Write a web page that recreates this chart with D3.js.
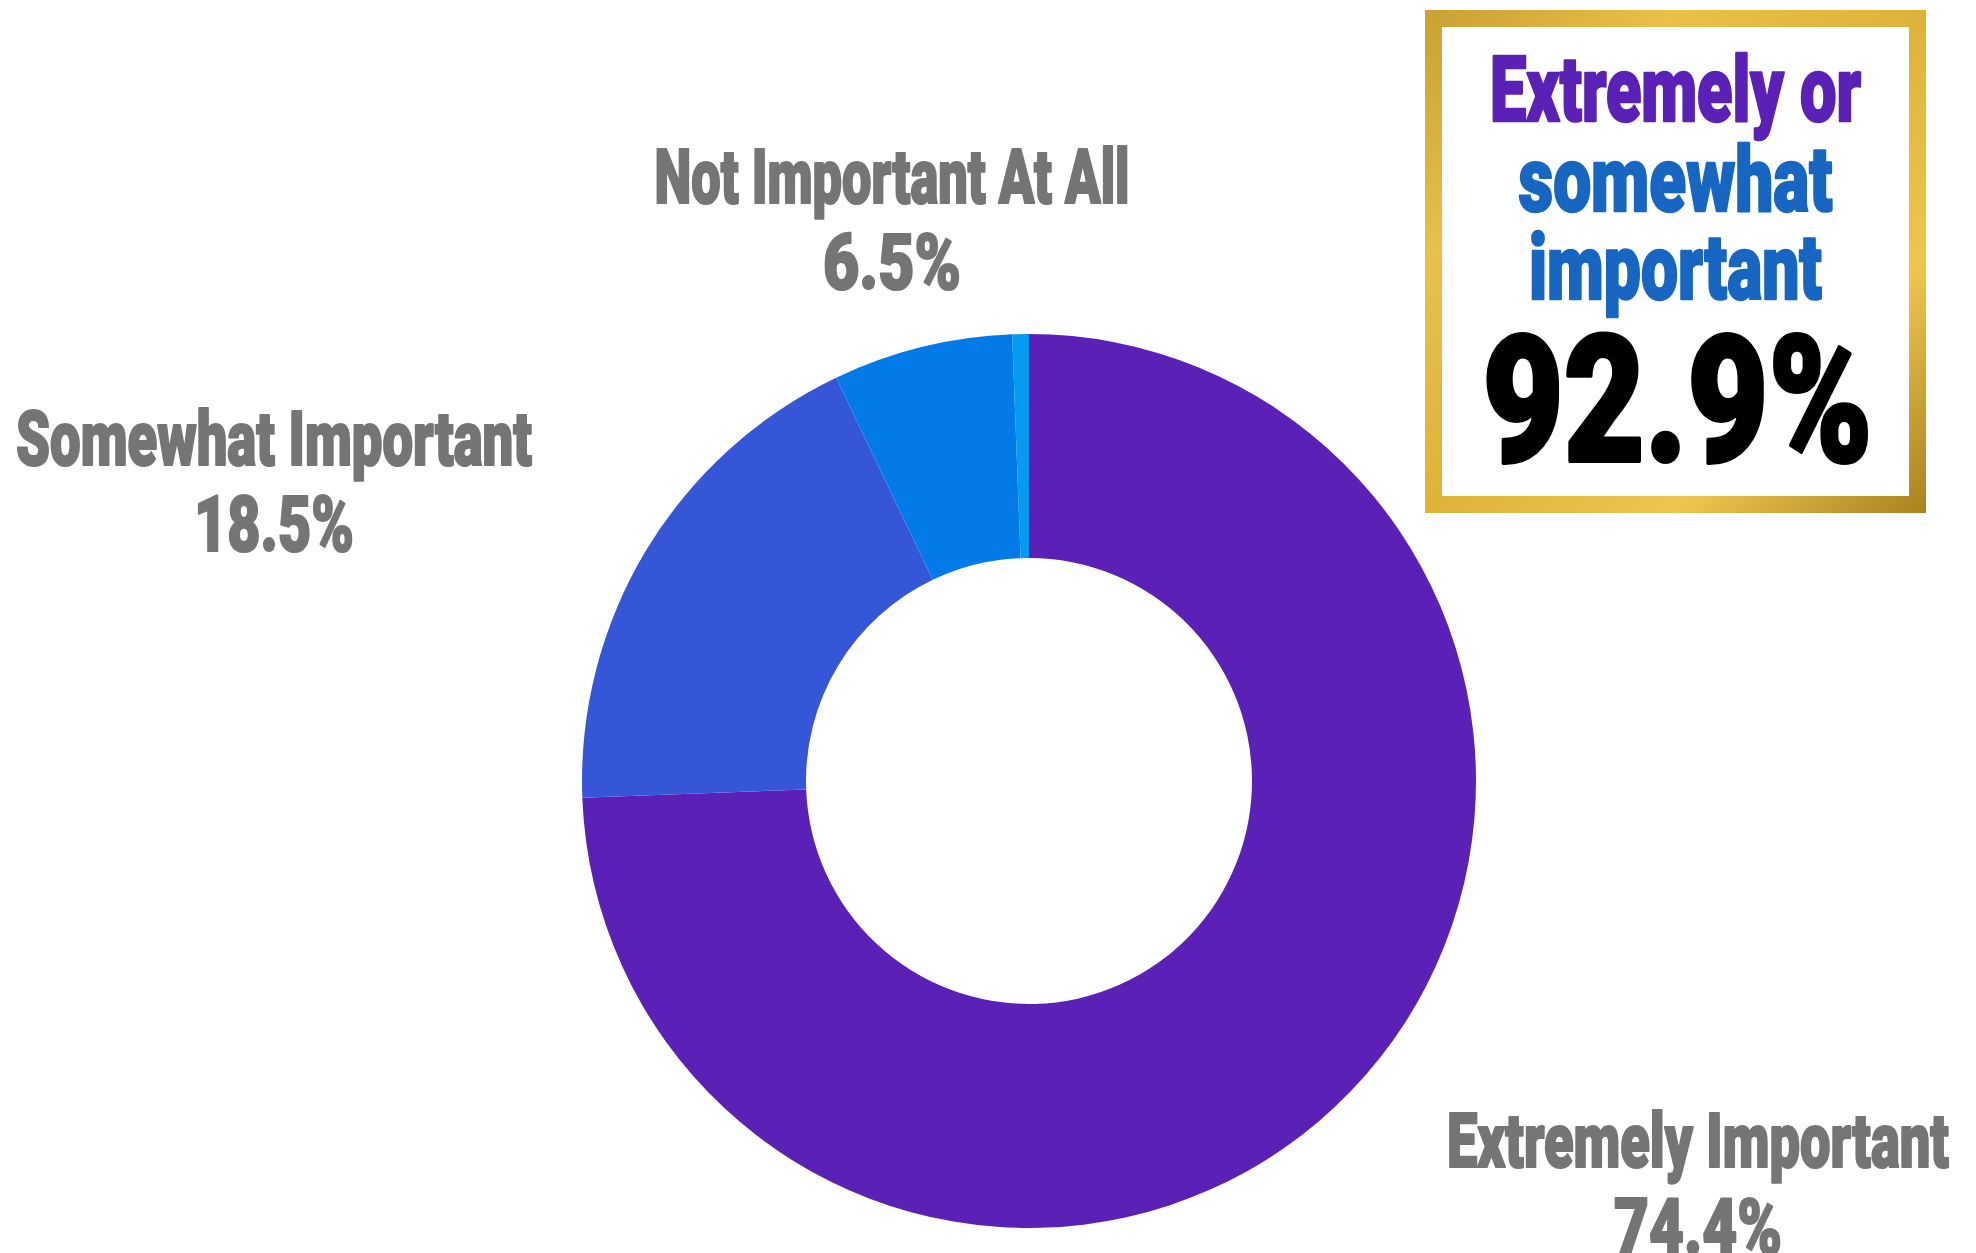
<!DOCTYPE html>
<html><head><meta charset="utf-8">
<script src="https://cdn.jsdelivr.net/npm/d3@7"></script>
<style>html,body{margin:0;padding:0;background:#fff;overflow:hidden}</style>
</head><body>
<svg id="chart" width="1976" height="1253"></svg>
<script>
const categories = ["Extremely Important", "Somewhat Important", "Not Important At All", "No Answer"];
const values = [74.4, 18.5, 6.5, 0.6];
const sliceColors = ["#5B21B6", "#3656D8", "#027BE8", "#049BF0"];
const valueLabels = ["74.4%", "18.5%", "6.5%", ""];
const calloutLines = ["Extremely or", "somewhat", "important"];
const calloutValue = "92.9%";

const svg = d3.select("#chart");
const FONT = "Roboto, Inter, 'DejaVu Sans', sans-serif";

const cx = 1029, cy = 781, rOuter = 447, rInner = 223;
const pie = d3.pie().sort(null).value(d => d.v);
const arc = d3.arc().innerRadius(rInner).outerRadius(rOuter);
const data = categories.map((c, i) => ({c, v: values[i], col: sliceColors[i]}));
svg.append("g").attr("transform", `translate(${cx},${cy})`)
  .selectAll("path").data(pie(data)).join("path")
  .attr("d", arc).attr("fill", d => d.data.col);

function heavyText(x, y, txt, fs, col, w, sw) {
  return svg.append("text").attr("x", x).attr("y", y).attr("text-anchor", "middle")
    .attr("font-family", FONT).attr("font-weight", 900).attr("font-size", fs)
    .attr("fill", col).attr("stroke", col).attr("stroke-width", sw).attr("stroke-linejoin", "round")
    .attr("textLength", w).attr("lengthAdjust", "spacingAndGlyphs")
    .text(txt);
}

// labels
const labelPos = [
  {x: 1698, y1: 1167, y2: 1254, w1: 502, w2: 168},
  {x: 274, y1: 465, y2: 551, w1: 516, w2: 160},
  {x: 892, y1: 203, y2: 289, w1: 475, w2: 138}
];
labelPos.forEach((p, i) => {
  heavyText(p.x, p.y1, categories[i], 76, "#757575", p.w1, 2.2);
  heavyText(p.x, p.y2, valueLabels[i], 78, "#757575", p.w2, 2.2);
});

// gold frame
const defs = svg.append("defs");
const g = defs.append("linearGradient").attr("id", "gold").attr("x1", "0%").attr("y1", "0%").attr("x2", "100%").attr("y2", "100%");
[["0%", "#C9A033"], ["25%", "#E9C048"], ["50%", "#DDB33A"], ["75%", "#EDC64F"], ["100%", "#A8821E"]]
  .forEach(s => g.append("stop").attr("offset", s[0]).attr("stop-color", s[1]));
const fx = 1425, fy = 10, fw = 501, fh = 503, ft = 17;
svg.append("rect").attr("x", fx).attr("y", fy).attr("width", fw).attr("height", fh).attr("fill", "url(#gold)");
svg.append("rect").attr("x", fx + ft).attr("y", fy + ft).attr("width", fw - 2 * ft).attr("height", fh - 2 * ft).attr("fill", "#fff");

const boxCx = fx + fw / 2;
const lineSpecs = [
  {y: 121, w: 371, col: "#5B21B6", fs: 91},
  {y: 211, w: 314, col: "#1766C2", fs: 91},
  {y: 299, w: 293, col: "#1766C2", fs: 91}
];
lineSpecs.forEach((s, i) => heavyText(boxCx, s.y, calloutLines[i], s.fs, s.col, s.w, 2.5));
heavyText(boxCx + 2, 461, calloutValue, 176, "#000", 390, 4);
</script>
</body></html>
